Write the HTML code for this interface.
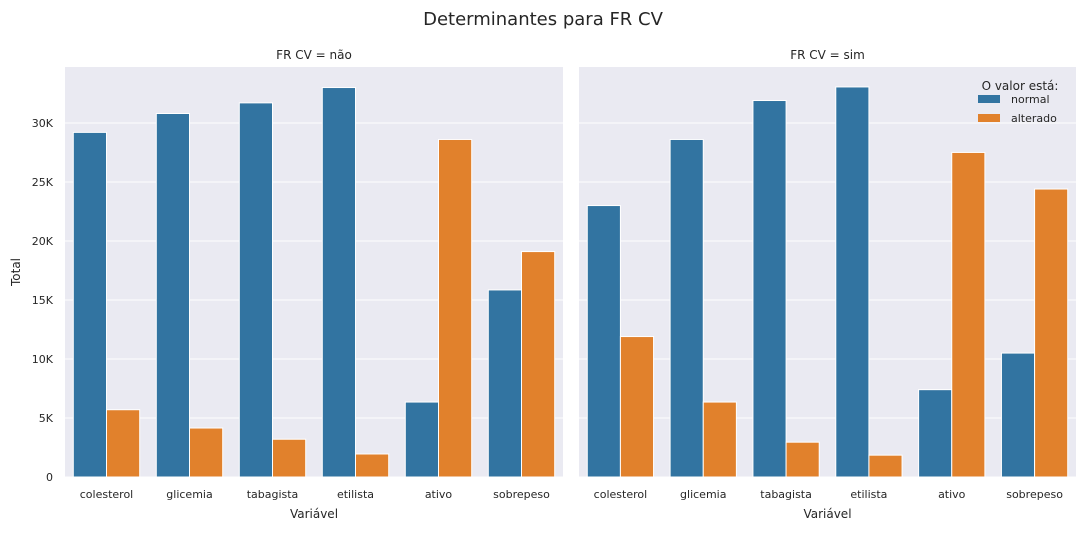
<!DOCTYPE html>
<html><head><meta charset="utf-8"><style>
body{margin:0;background:#fff;font-family:"Liberation Sans","DejaVu Sans",sans-serif}
svg text{font-family:"DejaVu Sans","Liberation Sans",sans-serif;fill:#262626}
</style></head><body>
<svg id="c" width="1086" height="530"></svg>
<script>
const categories=["colesterol","glicemia","tabagista","etilista","ativo","sobrepeso"];
const naoNormal=[29200,30800,31700,33000,6350,15850];
const naoAlterado=[5700,4150,3200,1950,28600,19100];
const simNormal=[23000,28600,31900,33050,7400,10500];
const simAlterado=[11900,6350,2950,1850,27500,24400];
const yTicks=[0,5000,10000,15000,20000,25000,30000];
const yTickLabels=["0","5K","10K","15K","20K","25K","30K"];
const NS="http://www.w3.org/2000/svg";
const svg=document.getElementById('c');
function mk(t,a,p){const e=document.createElementNS(NS,t);for(const k in a)e.setAttribute(k,a[k]);(p||svg).appendChild(e);return e;}
const yTop=67,yBot=477,yMax=34740;
const y=v=>yBot-(v/yMax)*(yBot-yTop);
let t=mk('text',{x:543,y:25,'text-anchor':'middle','font-size':18});t.textContent="Determinantes para FR CV";

const panels=[{x0:65,x1:563,title:"FR CV = não",n:naoNormal,a:naoAlterado,name:'panel-nao'},{x0:579,x1:1076,title:"FR CV = sim",n:simNormal,a:simAlterado,name:'panel-sim'}];
panels.forEach((p,pi)=>{
 const g=mk('g',{});
 
 mk('rect',{x:p.x0,y:yTop,width:p.x1-p.x0,height:yBot-yTop,fill:'#eaeaf2'},g);
 yTicks.forEach((v,i)=>{
  mk('line',{x1:p.x0,x2:p.x1,y1:y(v),y2:y(v),stroke:'#fff','stroke-width':1},g);
  if(pi==0){const tt=mk('text',{x:p.x0-12,y:y(v)+4,'text-anchor':'end','font-size':11},g);tt.textContent=yTickLabels[i];
   }
 });
 const cw=(p.x1-p.x0)/categories.length,bw=cw*0.4;
 categories.forEach((c,i)=>{
  const cx=p.x0+cw*(i+0.5);
  const b1=mk('rect',{x:cx-bw,y:y(p.n[i]),width:bw,height:yBot-y(p.n[i]),fill:'#3274a1',stroke:'#fff','stroke-width':1},g);
  
  const b2=mk('rect',{x:cx,y:y(p.a[i]),width:bw,height:yBot-y(p.a[i]),fill:'#e1812c',stroke:'#fff','stroke-width':1},g);
  
  const tl=mk('text',{x:cx,y:498,'text-anchor':'middle','font-size':11},g);tl.textContent=c;
  
 });
 const pt=mk('text',{x:(p.x0+p.x1)/2,y:59,'text-anchor':'middle','font-size':12},g);pt.textContent=p.title;
 
 const xt=mk('text',{x:(p.x0+p.x1)/2,y:518,'text-anchor':'middle','font-size':12},g);xt.textContent="Variável";
 
});
t=mk('text',{x:20,y:272,'text-anchor':'middle','font-size':12,transform:'rotate(-90 20 272)'});t.textContent="Total";

const lg=mk('g',{});
t=mk('text',{x:1020,y:90,'text-anchor':'middle','font-size':12},lg);t.textContent="O valor está:";
[["normal",'#3274a1',105],["alterado",'#e1812c',124]].forEach(([l,c,yy])=>{
 const r=mk('rect',{x:978,y:yy-10,width:22,height:8,fill:c},lg);
 
 const tx=mk('text',{x:1011,y:yy-2,'font-size':11},lg);tx.textContent=l;
 
});
</script></body></html>
